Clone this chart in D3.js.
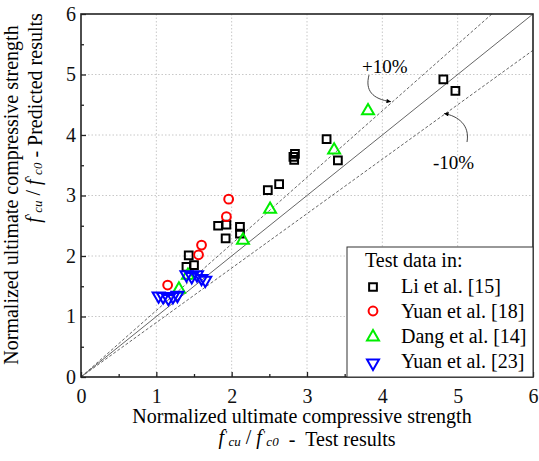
<!DOCTYPE html>
<html>
<head>
<meta charset="utf-8">
<script src="https://cdn.jsdelivr.net/npm/d3@7"></script>
<style>
    body { margin: 0; background: #fff; }
    svg { display: block; font-family: "Liberation Serif", "Times New Roman", serif; }
</style>
</head>
<body>
<svg id="chart" width="539" height="461"></svg>
<script>
/*################
Data
################*/
const majorTicks = [0, 1, 2, 3, 4, 5, 6];
const minorTicks = [0.5, 1.5, 2.5, 3.5, 4.5, 5.5];

// Li et al. [15]
const liX = [1.43, 1.40, 1.50, 1.82, 1.93, 2.11, 2.11, 1.92, 2.48, 2.63, 2.83, 2.84, 2.82, 3.26, 3.41, 4.81, 4.97];
const liY = [2.01, 1.82, 1.85, 2.50, 2.52, 2.48, 2.37, 2.29, 3.09, 3.19, 3.59, 3.69, 3.64, 3.93, 3.58, 4.92, 4.73];
// Yuan et al. [18]
const yuan18X = [1.96, 1.93, 1.60, 1.56, 1.15];
const yuan18Y = [2.94, 2.65, 2.18, 2.02, 1.52];
// Dang et al. [14]
const dangX = [3.81, 3.36, 2.51, 2.15, 1.30, 1.42];
const dangY = [4.40, 3.75, 2.77, 2.26, 1.45, 1.68];
// Yuan et al. [23]
const yuan23X = [1.03, 1.09, 1.16, 1.22, 1.28, 1.40, 1.47, 1.54, 1.60, 1.65];
const yuan23Y = [1.34, 1.33, 1.30, 1.33, 1.35, 1.69, 1.66, 1.69, 1.63, 1.60];

const legendLabels = ['Li et al. [15]', 'Yuan et al. [18]', 'Dang et al. [14]', 'Yuan et al. [23]'];

/*################
Layout
################*/
const svg = d3.select('#chart');
const plotL = 81, plotR = 533, plotT = 14, plotB = 377;

const x = d3.scaleLinear().domain([0, 6]).range([plotL, plotR]);
const y = d3.scaleLinear().domain([0, 6]).range([plotB, plotT]);

// grid
svg.append('g')
    .selectAll('line')
    .data([1, 2, 3, 4, 5])
    .enter().append('line')
    .attr('x1', d => x(d)).attr('x2', d => x(d))
    .attr('y1', plotT).attr('y2', plotB)
    .attr('stroke', '#c8c8c8').attr('stroke-dasharray', '1.5,2');
svg.append('g')
    .selectAll('line')
    .data([1, 2, 3, 4, 5])
    .enter().append('line')
    .attr('y1', d => y(d)).attr('y2', d => y(d))
    .attr('x1', plotL).attr('x2', plotR)
    .attr('stroke', '#c8c8c8').attr('stroke-dasharray', '1.5,2');

// reference lines y = x, +10%, -10%
const refLines = [
    { k: 1.0, dash: null },
    { k: 1.1, dash: '3,2' },
    { k: 0.9, dash: '3,2' }
];
svg.append('g')
    .selectAll('line')
    .data(refLines)
    .enter().append('line')
    .attr('x1', x(0)).attr('y1', y(0))
    .attr('x2', d => x(Math.min(6, 6 / d.k)))
    .attr('y2', d => y(Math.min(6, 6 / d.k) * d.k))
    .attr('stroke', '#555')
    .attr('stroke-width', 0.9)
    .attr('stroke-dasharray', d => d.dash);

// axes
const fontSize = 20;
let xAxis = svg.append('g')
    .attr('transform', `translate(0,${plotB})`)
    .call(d3.axisBottom(x).tickValues(majorTicks).tickSize(-5).tickPadding(12).tickFormat(d3.format('d')));
let xMinor = svg.append('g')
    .attr('transform', `translate(0,${plotB})`)
    .call(d3.axisBottom(x).tickValues(minorTicks).tickSize(-3).tickFormat(''));
let yAxis = svg.append('g')
    .attr('transform', `translate(${plotL},0)`)
    .call(d3.axisLeft(y).tickValues(majorTicks).tickSize(-5).tickPadding(5).tickFormat(d3.format('d')));
let yMinor = svg.append('g')
    .attr('transform', `translate(${plotL},0)`)
    .call(d3.axisLeft(y).tickValues(minorTicks).tickSize(-3).tickFormat(''));

[xAxis, xMinor, yAxis, yMinor].forEach(a => {
    a.attr('font-family', null);
    a.select('.domain').remove();
    a.selectAll('line').attr('stroke', '#222').attr('stroke-width', 1.3);
    a.selectAll('text')
        .attr('font-size', fontSize)
        .attr('fill', '#111');
});

// frame
svg.append('rect')
    .attr('x', plotL).attr('y', plotT)
    .attr('width', plotR - plotL).attr('height', plotB - plotT)
    .attr('fill', 'none').attr('stroke', '#222').attr('stroke-width', 1.6);

/*################
Markers
################*/
const sq = d3.symbol().type(d3.symbolSquare).size(60);
const tri = d3.symbol().type(d3.symbolTriangle).size(62);

let drawSquares = (g, xs, ys) => g.selectAll('path')
    .data(xs.map((v, i) => [v, ys[i]]))
    .enter().append('path')
    .attr('d', sq)
    .attr('transform', d => `translate(${x(d[0])},${y(d[1])})`)
    .attr('fill', 'none').attr('stroke', '#000').attr('stroke-width', 2);

let drawCircles = (g, xs, ys) => g.selectAll('circle')
    .data(xs.map((v, i) => [v, ys[i]]))
    .enter().append('circle')
    .attr('cx', d => x(d[0])).attr('cy', d => y(d[1])).attr('r', 4.4)
    .attr('fill', 'none').attr('stroke', '#ff0000').attr('stroke-width', 2);

let drawTriangles = (g, xs, ys, color, rot) => g.selectAll('path')
    .data(xs.map((v, i) => [v, ys[i]]))
    .enter().append('path')
    .attr('d', tri)
    .attr('transform', d => `translate(${x(d[0])},${y(d[1])}) rotate(${rot})`)
    .attr('fill', 'none').attr('stroke', color).attr('stroke-width', 2);

drawSquares(svg.append('g'), liX, liY);
drawCircles(svg.append('g'), yuan18X, yuan18Y);
drawTriangles(svg.append('g'), dangX, dangY, '#00ee00', 0);
drawTriangles(svg.append('g'), yuan23X, yuan23Y, '#0000ff', 180);

/*################
Annotations +10% / -10%
################*/
const defs = svg.append('defs');
defs.append('marker')
    .attr('id', 'arrow')
    .attr('viewBox', '0 0 10 10')
    .attr('refX', 10).attr('refY', 5)
    .attr('markerWidth', 7).attr('markerHeight', 5)
    .attr('orient', 'auto')
    .append('path').attr('d', 'M0,0 L10,5 L0,10 Z').attr('fill', '#000');

const notes = [
    { label: '+10%', tx: 3.73, ty: 5.03, pts: [[3.823, 4.99], [3.77, 4.74], [3.863, 4.595], [4.115, 4.55]] },
    { label: '-10%', tx: 4.673, ty: 3.446, pts: [[5.124, 3.884], [5.164, 4.165], [5.005, 4.314], [4.819, 4.355]] }
];
notes.forEach(n => {
    const p = n.pts.map(q => [x(q[0]), y(q[1])]);
    svg.append('path')
        .attr('d', `M${p[0]} C${p[1]} ${p[2]} ${p[3]}`)
        .attr('fill', 'none').attr('stroke', '#333').attr('stroke-width', 0.9)
        .attr('marker-end', 'url(#arrow)');
    svg.append('text')
        .attr('x', x(n.tx)).attr('y', y(n.ty))
        .attr('font-size', 19)
        .text(n.label);
});

/*################
Legend
################*/
const legend = svg.append('g');
legend.append('rect')
    .attr('x', 347).attr('y', 247)
    .attr('width', plotR - 347).attr('height', plotB - 247)
    .attr('fill', '#fff').attr('stroke', '#333').attr('stroke-width', 1);
legend.append('text').attr('x', 365).attr('y', 267).attr('font-size', fontSize).text('Test data in:');

const legendItems = legend.selectAll('g.item')
    .data(legendLabels)
    .enter().append('g')
    .attr('transform', (d, i) => `translate(0,${293 + i * 25})`);
legendItems.append('text').attr('x', 401).attr('y', 0).attr('font-size', fontSize).text(d => d);
legendItems.each(function (d, i) {
    const g = d3.select(this);
    if (i === 0) g.append('path').attr('d', sq).attr('transform', 'translate(373,-6)')
        .attr('fill', 'none').attr('stroke', '#000').attr('stroke-width', 2);
    if (i === 1) g.append('circle').attr('cx', 373).attr('cy', -7).attr('r', 4.4)
        .attr('fill', 'none').attr('stroke', '#ff0000').attr('stroke-width', 2);
    if (i === 2) g.append('path').attr('d', tri).attr('transform', 'translate(373,-6)')
        .attr('fill', 'none').attr('stroke', '#00ee00').attr('stroke-width', 2);
    if (i === 3) g.append('path').attr('d', tri).attr('transform', 'translate(373,-5) rotate(180)')
        .attr('fill', 'none').attr('stroke', '#0000ff').attr('stroke-width', 2);
});

/*################
Axis titles
################*/
function ratioLabel(t, tail) {
    [['f', 'cu'], ['f', 'c0']].forEach((part, i) => {
        t.append('tspan').attr('font-style', 'italic').text(part[0]);
        t.append('tspan').attr('font-size', 11).attr('dy', -6).attr('dx', 1.5).text("'");
        t.append('tspan').attr('font-size', 13).attr('font-style', 'italic').attr('dy', 8).attr('dx', 1).text(part[1]);
        t.append('tspan').attr('dy', -2).text(i === 0 ? '\u00a0/\u00a0' : '');
    });
    t.append('tspan').text(tail);
}

svg.append('text')
    .attr('x', 302).attr('y', 423)
    .attr('text-anchor', 'middle').attr('font-size', fontSize)
    .text('Normalized ultimate compressive strength');
ratioLabel(svg.append('text')
    .attr('x', 307).attr('y', 444)
    .attr('text-anchor', 'middle').attr('font-size', fontSize), '\u00a0\u00a0-\u00a0\u00a0Test results');

svg.append('text')
    .attr('transform', 'translate(18,195) rotate(-90)')
    .attr('text-anchor', 'middle').attr('font-size', fontSize)
    .text('Normalized ultimate compressive strength');
ratioLabel(svg.append('text')
    .attr('transform', 'translate(40,118) rotate(-90)')
    .attr('text-anchor', 'middle').attr('font-size', fontSize), '\u00a0-\u00a0Predicted results');
</script>
</body>
</html>
